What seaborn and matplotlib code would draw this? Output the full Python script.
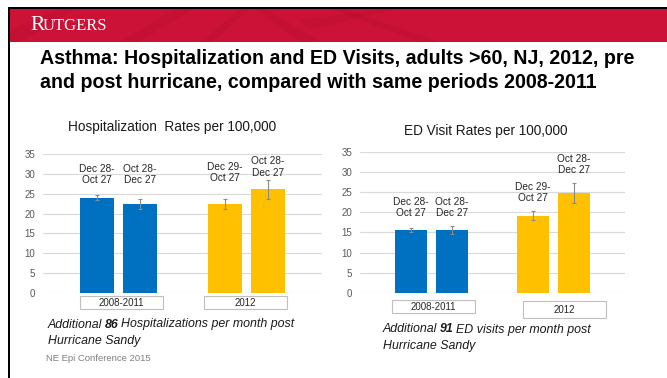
import matplotlib
matplotlib.use("Agg")
import matplotlib.pyplot as plt
from matplotlib.patches import Rectangle, Polygon
import seaborn as sns
import pandas as pd

# ---------------- data ----------------
groups = ["2008-2011", "2008-2011", "2012", "2012"]
periods = ["pre", "post", "pre", "post"]
bar_labels = ["Dec 28-\nOct 27", "Oct 28-\nDec 27", "Dec 29-\nOct 27", "Oct 28-\nDec 27"]
hosp_rates = [24.0, 22.4, 22.4, 26.2]
hosp_err = [0.6, 1.3, 1.2, 2.4]
ed_rates = [15.6, 15.6, 19.1, 24.8]
ed_err = [0.5, 1.0, 1.1, 2.5]
group_order = ["2008-2011", "2012"]
yticks = [0, 5, 10, 15, 20, 25, 30, 35]

# layout: vertical position (data units) of the bottom of each bar label
hosp_label_y = [27.3, 27.3, 27.7, 29.1]
ed_label_y = [18.6, 18.6, 22.3, 29.2]

W, H = 667, 378
BLUE = "#0070C0"
YELLOW = "#FFC000"
RED = "#CC1236"

sns.set_theme(style="white")
plt.rcParams["font.family"] = ["Liberation Sans", "DejaVu Sans"]

fig = plt.figure(figsize=(W / 100, H / 100), dpi=100)
fig.patch.set_facecolor("white")


def fx(x):
    return x / W


def fy(y):
    return 1 - y / H


def rect(x0, y0, x1, y1, **kw):
    fig.add_artist(Rectangle((fx(x0), fy(y1)), fx(x1) - fx(x0), fy(y0) - fy(y1),
                             transform=fig.transFigure, **kw))


def poly(pts, **kw):
    fig.add_artist(Polygon([(fx(a), fy(b)) for a, b in pts], closed=True,
                           transform=fig.transFigure, **kw))


# ---------------- slide decorations ----------------
rect(9, 9, 667, 42, facecolor=RED, edgecolor="none", zorder=0)
# faint darker rays in the banner
for pts in [[(10, 30), (60, 9), (75, 9), (20, 42), (10, 42)],
            [(120, 42), (175, 9), (192, 9), (140, 42)],
            [(200, 42), (240, 9), (250, 9), (212, 42)],
            [(255, 9), (300, 42), (320, 42), (268, 9)],
            [(330, 9), (420, 42), (440, 42), (345, 9)],
            [(300, 20), (380, 9), (395, 9), (310, 30)]]:
    poly(pts, facecolor="#B00E2C", edgecolor="none", alpha=0.25, zorder=0.5)
rect(8, 7, 667, 9, facecolor="black", edgecolor="none", zorder=1)
rect(8, 7, 10, 378, facecolor="black", edgecolor="none", zorder=1)

# Logo text in small caps
t_r = fig.text(fx(30), fy(30), "R", color="white", fontsize=15.5,
               family=["Liberation Serif", "DejaVu Serif"], va="baseline", ha="left")
fig.canvas.draw()
rr = t_r.get_window_extent()
fig.text(rr.x1 / W - 0.002, fy(30), "UTGERS", color="white", fontsize=12,
         family=["Liberation Serif", "DejaVu Serif"], va="baseline", ha="left")

fig.text(fx(40), fy(59), "Asthma: Hospitalization and ED Visits, adults >60, NJ, 2012, pre",
         fontsize=14.1, fontweight="bold", color="black", va="center", ha="left")
fig.text(fx(40), fy(83), "and post hurricane, compared with same periods 2008-2011",
         fontsize=14.1, fontweight="bold", color="black", va="center", ha="left")


# ---------------- charts ----------------
def draw_chart(ax, rates, errs, label_y, title, title_xy):
    df = pd.DataFrame({"group": groups, "period": periods, "rate": rates})
    sns.barplot(data=df, x="group", y="rate", hue="period", order=group_order,
                hue_order=["pre", "post"], width=0.672, gap=0.21, errorbar=None,
                legend=False, ax=ax, zorder=3, linewidth=0)
    bars = sorted([p for p in ax.patches if p.get_height() > 0], key=lambda p: p.get_x())
    centers = []
    for p in bars:
        c = p.get_x() + p.get_width() / 2
        centers.append(c)
        p.set_facecolor(BLUE if c < 0.5 else YELLOW)
        p.set_edgecolor("none")
    ax.errorbar(centers, rates, yerr=errs, fmt="none", ecolor="#8a8a8a",
                elinewidth=0.8, capsize=1.5, capthick=0.8, zorder=4)
    for c, ly, lab in zip(centers, label_y, bar_labels):
        ax.text(c, ly, lab, ha="center", va="bottom", fontsize=7.3, color="#262626",
                linespacing=1.15, multialignment="center")
    ax.set_xlim(-0.59, 1.59)
    ax.set_ylim(0, 35)
    ax.set_yticks(yticks)
    ax.set_yticklabels([str(v) for v in yticks])
    ax.set_xticks([])
    ax.set_xlabel("")
    ax.set_ylabel("")
    ax.tick_params(axis="y", length=0, pad=5.5, labelsize=7, labelcolor="#595959")
    for s in ax.spines.values():
        s.set_visible(False)
    ax.grid(axis="y", color="#d9d9d9", linewidth=0.8, zorder=0)
    ax.set_axisbelow(True)
    ax.patch.set_alpha(0)
    fig.text(fx(title_xy[0]), fy(title_xy[1]), title, fontsize=9.8, color="#1a1a1a",
             ha="center", va="center")


ax1 = fig.add_axes([fx(43), fy(292.6), fx(322) - fx(43), fy(154.3) - fy(292.6)])
draw_chart(ax1, hosp_rates, hosp_err, hosp_label_y,
           "Hospitalization  Rates per 100,000", (172, 127))

ax2 = fig.add_axes([fx(360), fy(293), fx(625) - fx(360), fy(151.7) - fy(293)])
draw_chart(ax2, ed_rates, ed_err, ed_label_y,
           "ED Visit Rates per 100,000", (486, 131))

# group label boxes
boxes = [
    (79.5, 296, 162.5, 309, "2008-2011"),
    (204, 296, 287, 309, "2012"),
    (392, 299.5, 474.5, 313, "2008-2011"),
    (522.5, 301, 605.5, 317.5, "2012"),
]
for x0, y0, x1, y1, lab in boxes:
    rect(x0, y0, x1, y1, facecolor="white", edgecolor="#bfbfbf", linewidth=0.8, zorder=2)
    fig.text(fx((x0 + x1) / 2), fy((y0 + y1) / 2 + 0.5), lab, fontsize=7,
             color="#262626", ha="center", va="center", zorder=3)


# notes with mixed bold
NOTE_FS = 8.9


def note(x, y, parts):
    cur_x = fx(x)
    for i, (txt, weight) in enumerate(parts):
        t = fig.text(cur_x, fy(y), txt, fontsize=NOTE_FS, style="italic",
                     fontweight=weight, color="#1a1a1a", ha="left", va="center")
        fig.canvas.draw()
        bb = t.get_window_extent()
        cur_x = (bb.x1 + NOTE_FS * 0.27) / W


note(48, 324.5, [("Additional", "normal"), ("86", "bold"),
                 ("Hospitalizations per month post", "normal")])
fig.text(fx(48), fy(341), "Hurricane Sandy", fontsize=NOTE_FS, style="italic",
         color="#1a1a1a", ha="left", va="center")
note(383, 329.5, [("Additional", "normal"), ("91", "bold"),
                  ("ED visits per month post", "normal")])
fig.text(fx(383), fy(345.5), "Hurricane Sandy", fontsize=NOTE_FS, style="italic",
         color="#1a1a1a", ha="left", va="center")

fig.text(fx(46), fy(358.5), "NE Epi Conference 2015", fontsize=6.8, color="#7f7f7f",
         ha="left", va="center")

fig.savefig("out.png", dpi=100)
